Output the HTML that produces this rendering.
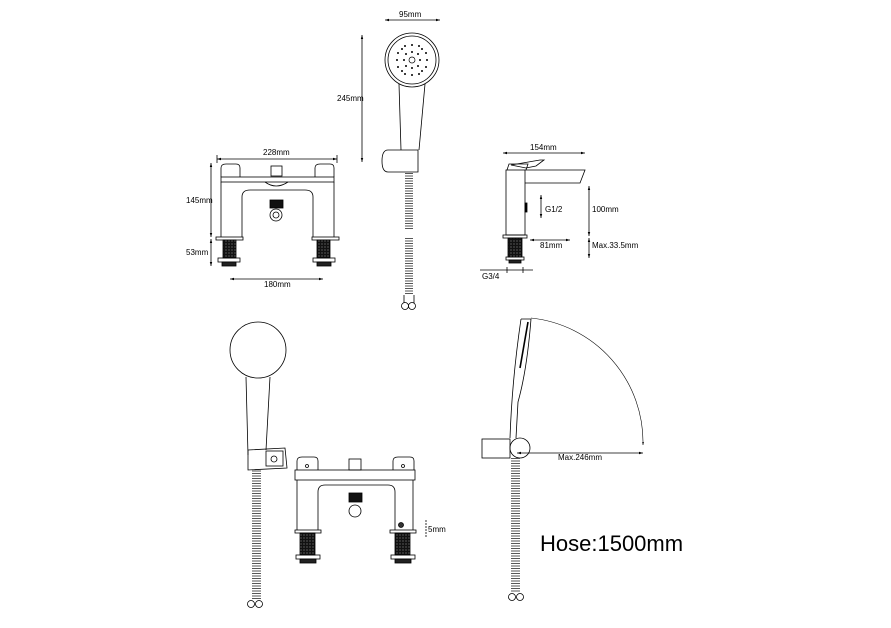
<!DOCTYPE html>
<html><head><style>
html,body{margin:0;padding:0;background:#fff;}
svg{display:block;}
text{font-family:"Liberation Sans",sans-serif;fill:#000;}
</style></head><body>
<svg width="891" height="628" viewBox="0 0 891 628" xmlns="http://www.w3.org/2000/svg">
<defs>
<pattern id="hose" width="8" height="2.5" patternUnits="userSpaceOnUse">
<line x1="0" y1="1" x2="8" y2="1" stroke="#444" stroke-width="0.9"/>
</pattern>
<pattern id="thr" width="3" height="3" patternUnits="userSpaceOnUse">
<rect width="3" height="3" fill="#111"/><circle cx="1" cy="1" r="0.6" fill="#888"/>
</pattern>
<marker id="ar" viewBox="0 0 10 10" refX="10" refY="5" markerWidth="5" markerHeight="5" orient="auto-start-reverse"><path d="M0,2 L10,5 L0,8z" fill="#000"/></marker>
</defs>
<g fill="none" stroke="#000" stroke-width="0.8">

<!-- ===== Top-left bath mixer ===== -->
<line x1="217" y1="159" x2="337" y2="159" marker-start="url(#ar)" marker-end="url(#ar)"/>
<line x1="217" y1="155" x2="217" y2="163"/><line x1="337" y1="155" x2="337" y2="163"/>
<path d="M221,177 L221,168 Q221,164 226,164 L236,164 Q240,164 240,168 L240,177"/>
<path d="M315,177 L315,168 Q315,164 320,164 L330,164 Q334,164 334,168 L334,177"/>
<rect x="221" y="177" width="113" height="5"/>
<path d="M221,182 L221,237 M242,237 L242,197 Q242,190 250,190 L305,190 Q313,190 313,197 L313,237 M334,182 L334,237"/>
<rect x="271" y="166" width="11" height="10"/>
<path d="M265,182 Q276,190 288,182"/>
<rect x="270" y="200" width="13" height="8" fill="#111"/>
<circle cx="276" cy="215" r="6"/><circle cx="276" cy="215" r="3"/>
<rect x="216" y="237" width="27" height="3"/><rect x="312" y="237" width="27" height="3"/>
<rect x="223" y="240" width="13" height="18" fill="url(#thr)"/><rect x="317" y="240" width="13" height="18" fill="url(#thr)"/>
<rect x="218" y="258" width="22" height="4"/><rect x="222" y="262" width="14" height="4" fill="#222"/>
<rect x="313" y="258" width="22" height="4"/><rect x="317" y="262" width="14" height="4" fill="#222"/>
<line x1="211" y1="163" x2="211" y2="237" marker-start="url(#ar)" marker-end="url(#ar)"/>
<line x1="211" y1="239" x2="211" y2="266" marker-start="url(#ar)" marker-end="url(#ar)"/>
<line x1="230" y1="279" x2="323" y2="279" marker-start="url(#ar)" marker-end="url(#ar)"/>

<!-- ===== Top hand shower ===== -->
<line x1="385" y1="20" x2="440" y2="20" marker-start="url(#ar)" marker-end="url(#ar)"/>
<circle cx="412" cy="60" r="27"/><circle cx="412" cy="60" r="24"/>
<g fill="#000" stroke="none">
<circle cx="412" cy="60" r="3" fill="none" stroke="#000" stroke-width="0.7"/>
<circle cx="412" cy="52" r="1"/><circle cx="412" cy="68" r="1"/><circle cx="404" cy="60" r="1"/><circle cx="420" cy="60" r="1"/>
<circle cx="406" cy="54" r="1"/><circle cx="418" cy="54" r="1"/><circle cx="406" cy="66" r="1"/><circle cx="418" cy="66" r="1"/>
<circle cx="412" cy="45" r="1"/><circle cx="412" cy="75" r="1"/><circle cx="397" cy="60" r="1"/><circle cx="427" cy="60" r="1"/>
<circle cx="402" cy="49" r="1"/><circle cx="422" cy="49" r="1"/><circle cx="402" cy="71" r="1"/><circle cx="422" cy="71" r="1"/>
<circle cx="405" cy="46" r="1"/><circle cx="419" cy="46" r="1"/><circle cx="405" cy="74" r="1"/><circle cx="419" cy="74" r="1"/>
<circle cx="398" cy="53" r="1"/><circle cx="426" cy="53" r="1"/><circle cx="398" cy="67" r="1"/><circle cx="426" cy="67" r="1"/>
</g>
<path d="M399,84 L401,150 M425,84 L419,150"/>
<path d="M388,150 L418,150 L418,172 L388,172 Q382,172 382,161 Q382,150 388,150 Z"/>
<line x1="362" y1="35" x2="362" y2="162" marker-start="url(#ar)" marker-end="url(#ar)"/>
<rect x="405" y="173" width="8" height="56" fill="url(#hose)" stroke="none"/>
<rect x="405" y="238" width="8" height="57" fill="url(#hose)" stroke="none"/>
<path d="M404,295 L404,303 M414,295 L414,303"/>
<circle cx="405" cy="306" r="3.5"/><circle cx="412" cy="306" r="3.5"/>

<!-- ===== Top right basin tap ===== -->
<line x1="503" y1="153" x2="585" y2="153" marker-start="url(#ar)" marker-end="url(#ar)"/>
<path d="M511,165 L540,160 L544,160 L536,166 L526,168 Z"/>
<path d="M507,170 L509,164 L528,164 L526,170"/>
<rect x="506" y="170" width="19" height="65"/>
<path d="M525,170 L585,170 L580,183 L525,183"/>
<rect x="525" y="203" width="2" height="9" fill="#000"/>
<rect x="503" y="235" width="24" height="3"/>
<rect x="508" y="238" width="14" height="19" fill="url(#thr)"/>
<rect x="506" y="257" width="18" height="3"/><rect x="509" y="260" width="12" height="3" fill="#222"/>
<line x1="541" y1="195" x2="541" y2="218" marker-start="url(#ar)" marker-end="url(#ar)"/>
<line x1="589" y1="186" x2="589" y2="236" marker-start="url(#ar)" marker-end="url(#ar)"/>
<line x1="589" y1="238" x2="589" y2="258" marker-start="url(#ar)" marker-end="url(#ar)"/>
<line x1="530" y1="240" x2="570" y2="240" marker-start="url(#ar)" marker-end="url(#ar)"/>
<line x1="480" y1="270" x2="533" y2="270"/><line x1="507" y1="267" x2="507" y2="273"/><line x1="523" y1="267" x2="523" y2="273"/>

<!-- ===== Bottom-left hand shower ===== -->
<circle cx="258" cy="350" r="28"/>
<path d="M246,377 L248,455 M270,377 L266,450"/>
<path d="M248,450 L285,448 L287,468 L248,470 Z"/>
<rect x="266" y="451" width="17" height="15"/><circle cx="274" cy="459" r="3"/>
<rect x="252" y="470" width="9" height="130" fill="url(#hose)" stroke="none"/>
<circle cx="251" cy="604" r="3.5"/><circle cx="259" cy="604" r="3.5"/>

<!-- ===== Bottom bath mixer ===== -->
<path d="M297,470 L297,461 Q297,457 302,457 L314,457 Q318,457 318,461 L318,470"/>
<path d="M393,470 L393,461 Q393,457 398,457 L410,457 Q414,457 414,461 L414,470"/>
<circle cx="307" cy="466" r="1.5"/><circle cx="403" cy="466" r="1.5"/>
<rect x="349" y="459" width="12" height="11"/>
<rect x="295" y="470" width="120" height="10"/>
<path d="M297,480 L297,530 M318,530 L318,492 Q318,485 325,485 L388,485 Q395,485 395,492 L395,530 M413,480 L413,530"/>
<rect x="349" y="493" width="13" height="9" fill="#111"/>
<circle cx="355" cy="511" r="6"/>
<circle cx="401" cy="525" r="2.5" fill="#333"/>
<rect x="295" y="530" width="26" height="3"/><rect x="390" y="530" width="26" height="3"/>
<rect x="300" y="533" width="15" height="22" fill="url(#thr)"/><rect x="395" y="533" width="15" height="22" fill="url(#thr)"/>
<rect x="296" y="555" width="24" height="4"/><rect x="300" y="559" width="16" height="4" fill="#222"/>
<rect x="391" y="555" width="24" height="4"/><rect x="395" y="559" width="16" height="4" fill="#222"/>
<line x1="426" y1="520" x2="426" y2="537" stroke-dasharray="2,1"/>

<!-- ===== Bottom right side view ===== -->
<path d="M521,319 L531,319 Q527,370 518,402 L516,438 M521,319 Q512,380 510,438"/>
<path d="M528,322 L520,368" stroke-width="1.6"/>
<rect x="482" y="439" width="28" height="19"/>
<circle cx="520" cy="448" r="10"/>
<rect x="511" y="458" width="9" height="135" fill="url(#hose)" stroke="none"/>
<circle cx="512" cy="597" r="3.5"/><circle cx="520" cy="597" r="3.5"/>
<path d="M531,318 A125,125 0 0 1 643,445" stroke-width="0.6" marker-end="url(#ar)"/>
<line x1="517" y1="453" x2="643" y2="453" marker-start="url(#ar)" marker-end="url(#ar)"/>
</g>

<g font-size="8">
<text x="263" y="155">228mm</text>
<text x="186" y="203">145mm</text>
<text x="186" y="255">53mm</text>
<text x="264" y="287">180mm</text>
<text x="399" y="17">95mm</text>
<text x="337" y="101">245mm</text>
<text x="530" y="150">154mm</text>
<text x="545" y="212">G1/2</text>
<text x="592" y="212">100mm</text>
<text x="540" y="248">81mm</text>
<text x="592" y="248">Max.33.5mm</text>
<text x="482" y="279">G3/4</text>
<text x="428" y="532">5mm</text>
<text x="558" y="460">Max.246mm</text>
</g>
<text x="540" y="551" font-size="22">Hose:1500mm</text>
</svg>
</body></html>
